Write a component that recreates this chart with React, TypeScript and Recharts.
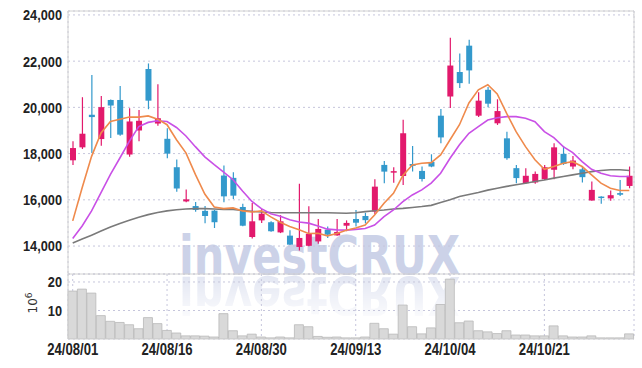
import React from 'react';
import { ComposedChart, Bar, Line, XAxis, YAxis, CartesianGrid, ReferenceLine } from 'recharts';

const dates = [
  '24/08/01', '24/08/02', '24/08/05', '24/08/06', '24/08/07', '24/08/08', '24/08/09', '24/08/12', '24/08/13', '24/08/14',
  '24/08/16', '24/08/19', '24/08/20', '24/08/21', '24/08/22', '24/08/23', '24/08/26', '24/08/27', '24/08/28', '24/08/29',
  '24/08/30', '24/09/02', '24/09/03', '24/09/04', '24/09/05', '24/09/06', '24/09/09', '24/09/10', '24/09/11', '24/09/12',
  '24/09/13', '24/09/19', '24/09/20', '24/09/23', '24/09/24', '24/09/25', '24/09/26', '24/09/27', '24/09/30', '24/10/02',
  '24/10/04', '24/10/07', '24/10/08', '24/10/10', '24/10/11', '24/10/14', '24/10/15', '24/10/16', '24/10/17', '24/10/18',
  '24/10/21', '24/10/22', '24/10/23', '24/10/24', '24/10/25', '24/10/28', '24/10/29', '24/10/30', '24/10/31', '24/11/01',
];

const openPrices = [
  17710, 18270, 19680, 18630, 20320, 20320, 17960, 19000, 21660, 19300,
  18640, 17410, 15930, 15730, 15520, 15530, 17050, 16950, 15690, 14390,
  15110, 15030, 14590, 14450, 13960, 14010, 14200, 14710, 14460, 14880,
  15170, 15300, 15490, 17510, 17180, 17030, 17550, 17250, 17640, 19640,
  20470, 21530, 22670, 19640, 20760, 19310, 18660, 17370, 16720, 16750,
  16890, 17300, 17990, 17440, 17320, 15970, 16140, 16060, 16290, 16600,
];
const highPrices = [
  18530, 20440, 21400, 20490, 20340, 20930, 19960, 19890, 21900, 21000,
  19100, 17740, 16450, 15910, 15730, 15560, 17480, 17190, 15830, 15860,
  15600, 15070, 15340, 14680, 16690, 15720, 15170, 14850, 15170, 15110,
  15560, 15440, 16890, 17680, 17410, 19460, 18330, 17440, 17970, 19930,
  23010, 22330, 22930, 20650, 20880, 20350, 18940, 17510, 17370, 17220,
  17510, 18450, 18330, 17900, 17440, 16790, 16150, 16400, 16860, 17440,
];
const lowPrices = [
  17510, 18200, 18030, 18340, 18670, 18770, 17860, 18530, 19920, 19200,
  17800, 16350, 15900, 15480, 14990, 14780, 15890, 16040, 14860, 14330,
  15000, 14620, 14560, 14040, 13810, 13990, 14100, 14350, 14450, 14640,
  14840, 14980, 15390, 16720, 16740, 16640, 17220, 16790, 17410, 18450,
  19970, 20840, 21020, 19580, 20010, 19240, 17730, 16720, 16690, 16690,
  16860, 16890, 17510, 17320, 16750, 15960, 15830, 15960, 16170, 16500,
];
const closePrices = [
  18240, 18860, 19580, 20010, 20080, 18820, 19390, 19420, 20290, 19530,
  18000, 16490, 16020, 15560, 15300, 15030, 16150, 16180, 14880, 15070,
  15400, 14640, 15070, 14060, 14350, 14530, 14740, 14490, 14610, 15000,
  15010, 15120, 16570, 17220, 17240, 18880, 17470, 16900, 17440, 18700,
  21810, 21050, 21600, 20290, 20160, 19840, 17800, 16940, 17040, 17120,
  17410, 18270, 17550, 17700, 16980, 16430, 16100, 16200, 16220, 17040,
];

// moving averages as drawn (orange, purple, grey)
const maShort = [
  15090, 16520, 17880, 18890, 19390, 19490, 19580, 19580, 19630, 19490,
  19250, 18600, 18030, 17100, 16250, 15690, 15620, 15650, 15520, 15470,
  15520, 15260, 15030, 14850, 14700, 14540, 14550, 14440, 14540, 14680,
  14780, 14910, 15340, 15850, 16280, 17050, 17510, 17580, 17610, 17940,
  18600, 19250, 20190, 20760, 20980, 20580, 19740, 18950, 18300, 17730,
  17320, 17440, 17580, 17650, 17440, 17080, 16720, 16500, 16400, 16400,
];
const maMid = [
  14330, 14870, 15520, 16310, 17100, 17810, 18530, 19170, 19350, 19420,
  19390, 19130, 18760, 18300, 17860, 17520, 17200, 16870, 16380, 15930,
  15620, 15400, 15290, 15140, 15040, 14990, 14870, 14730, 14700, 14690,
  14720, 14760, 14910, 15270, 15560, 15920, 16210, 16430, 16720, 17150,
  17800, 18380, 18880, 19170, 19450, 19550, 19600, 19600, 19530, 19380,
  18950, 18690, 18300, 18040, 17650, 17320, 17150, 17040, 17010, 17010,
];
const maLong = [
  14130, 14300, 14470, 14650, 14820, 14980, 15120, 15250, 15360, 15450,
  15520, 15570, 15600, 15620, 15620, 15600, 15580, 15580, 15540, 15500,
  15470, 15450, 15440, 15440, 15440, 15440, 15440, 15440, 15430, 15420,
  15440, 15490, 15530, 15560, 15600, 15630, 15670, 15710, 15760, 15880,
  16000, 16140, 16230, 16320, 16420, 16500, 16580, 16650, 16720, 16790,
  16860, 16940, 17010, 17080, 17150, 17220, 17270, 17300, 17300, 17270,
];

// volume in millions of shares
const volumes = [
  16.8, 17.5, 16.1, 8.2, 6.2, 5.8, 5.0, 3.6, 7.5, 5.4,
  3.0, 2.1, 1.1, 1.1, 1.0, 0.7, 8.9, 2.9, 1.1, 1.7,
  0.7, 0.4, 0.7, 0.4, 5.0, 4.3, 0.9, 0.6, 0.7, 0.4,
  0.4, 0.7, 5.5, 3.6, 1.7, 11.9, 4.3, 1.8, 3.9, 12.1,
  21.0, 5.7, 6.3, 2.9, 2.5, 1.9, 2.9, 1.4, 1.4, 1.1,
  1.1, 4.6, 1.1, 0.7, 0.7, 1.1, 0.4, 0.4, 0.4, 1.8,
];

const dateTicks = ['24/08/01', '24/08/16', '24/08/30', '24/09/13', '24/10/04', '24/10/21'];
const priceTicks = [14000, 16000, 18000, 20000, 22000, 24000];
const volumeTicks = [10, 20];

const UP = '#e2196c';
const DOWN = '#3399cc';
const GRID = '#c6c6dc';
const AXIS = '#d2d2d2';
const FONT = "'Liberation Sans', Arial, sans-serif";
const PRICE_MIN = 12790;
const PRICE_MAX = 24170;
const VOL_MAX = 22.8;

const rows = dates.map((date, i) => ({
  date,
  open: openPrices[i],
  high: highPrices[i],
  low: lowPrices[i],
  close: closePrices[i],
  range: [lowPrices[i], highPrices[i]],
  maShort: maShort[i],
  maMid: maMid[i],
  maLong: maLong[i],
  vol: volumes[i],
}));

function Candle(props: any) {
  const { x, y, width, height, payload } = props;
  if (x == null || !payload) return null;
  const top = Math.min(y, y + height);
  const h = Math.abs(height);
  const k = h / (payload.high - payload.low || 1);
  const yOpen = top + (payload.high - payload.open) * k;
  const yClose = top + (payload.high - payload.close) * k;
  const color = payload.close >= payload.open ? UP : DOWN;
  const cx = x + width / 2;
  return (
    <g>
      <line x1={cx} x2={cx} y1={top} y2={top + h} stroke={color} strokeWidth={1.2} />
      <rect x={x} y={Math.min(yOpen, yClose)} width={width} height={Math.max(Math.abs(yClose - yOpen), 1.5)} fill={color} />
    </g>
  );
}

// condensed tick text: squeeze horizontally around the anchor point
function NarrowTick(props: any) {
  const { x, y, payload, textAnchor, fontSize, squeeze, dy, format } = props;
  const label = format ? format(payload.value) : payload.value;
  return (
    <g transform={`translate(${x} ${y}) scale(${squeeze} 1)`}>
      <text x={0} y={0} dy={dy} textAnchor={textAnchor} fontFamily={FONT} fontWeight={700} fontSize={fontSize} fill="#222">
        {label}
      </text>
    </g>
  );
}

const fmtPrice = (v: number) => v.toLocaleString('en-US');

function Watermark() {
  return (
    <svg width={642} height={368} style={{ position: 'absolute', left: 0, top: 0 }}>
      <defs>
        <linearGradient id="fade" x1="0" y1="0" x2="0" y2="1">
          <stop offset="0%" stopColor="#fff" stopOpacity={0.55} />
          <stop offset="100%" stopColor="#fff" stopOpacity={0.1} />
        </linearGradient>
        <mask id="reflMask" maskUnits="userSpaceOnUse" x="0" y="276" width="642" height="40">
          <rect x="0" y="276" width="642" height="40" fill="url(#fade)" />
        </mask>
      </defs>
      <text x={179} y={274} textLength={281} lengthAdjust="spacingAndGlyphs"
        fontFamily="'DejaVu Sans', sans-serif" fontWeight={700} fontSize={53} fill="#ccd2e8">
        investCRUX
      </text>
      <g mask="url(#reflMask)">
        <g transform="translate(0 551) scale(1 -1)">
          <text x={179} y={274} textLength={281} lengthAdjust="spacingAndGlyphs"
            fontFamily="'DejaVu Sans', sans-serif" fontWeight={700} fontSize={53} fill="#ccd2e8">
            investCRUX
          </text>
        </g>
      </g>
    </svg>
  );
}

export default function App() {
  return (
    <div style={{ position: 'absolute', left: 0, top: 0, width: 642, height: 368, background: '#fff', overflow: 'hidden' }}>
      <Watermark />
      <div style={{ position: 'absolute', left: 0, top: 0 }}>
        <ComposedChart width={642} height={280} data={rows} margin={{ top: 11, right: 8, bottom: 6, left: 0 }}>
          <CartesianGrid stroke={GRID} strokeDasharray="2 3" />
          <XAxis dataKey="date" ticks={dateTicks} interval={0} height={0} tick={false} tickLine={false} axisLine={false} />
          <YAxis
            domain={[PRICE_MIN, PRICE_MAX]}
            allowDataOverflow
            ticks={priceTicks}
            width={68}
            tickSize={4}
            tickMargin={2}
            tickLine={false}
            axisLine={{ stroke: AXIS }}
            tick={<NarrowTick fontSize={15} squeeze={0.85} dy="0.36em" format={fmtPrice} />}
          />
          <ReferenceLine y={PRICE_MAX} stroke={AXIS} />
          <ReferenceLine x={dates[dates.length - 1]} position="end" stroke={AXIS} />
          <Line dataKey="maLong" type="linear" stroke="#7a7a7a" strokeWidth={1.6} dot={false} isAnimationActive={false} />
          <Line dataKey="maMid" type="linear" stroke="#c950e6" strokeWidth={1.6} dot={false} isAnimationActive={false} />
          <Line dataKey="maShort" type="linear" stroke="#ef8a4c" strokeWidth={1.6} dot={false} isAnimationActive={false} />
          <Bar dataKey="range" barSize={6} shape={<Candle />} isAnimationActive={false} />
        </ComposedChart>
      </div>
      <div style={{ position: 'absolute', left: 0, top: 264 }}>
        <ComposedChart width={642} height={104} data={rows} margin={{ top: 10, right: 8, bottom: 0, left: 0 }} barCategoryGap={0}>
          <CartesianGrid stroke={GRID} strokeDasharray="2 3" />
          <XAxis
            dataKey="date"
            ticks={dateTicks}
            interval={0}
            height={29}
            tickSize={0}
            tickMargin={4}
            tickLine={false}
            axisLine={{ stroke: AXIS }}
            tick={<NarrowTick fontSize={16} squeeze={0.82} dy="0.74em" />}
          />
          <YAxis
            domain={[0, VOL_MAX]}
            allowDataOverflow
            ticks={volumeTicks}
            width={68}
            tickSize={4}
            tickMargin={2}
            tickLine={false}
            axisLine={{ stroke: AXIS }}
            tick={<NarrowTick fontSize={15} squeeze={0.85} dy="0.36em" />}
          />
          <ReferenceLine y={VOL_MAX} stroke={AXIS} />
          <Bar dataKey="vol" fill="#d9d9d9" stroke="#b9b9b9" strokeWidth={0.8} isAnimationActive={false} />
        </ComposedChart>
      </div>
      <svg width={642} height={368} style={{ position: 'absolute', left: 0, top: 0, pointerEvents: 'none' }}>
        <text transform="translate(37 303) rotate(-90)" textAnchor="middle" fontFamily="'DejaVu Sans', sans-serif" fontSize={12} fill="#333">
          10<tspan dy={-5} fontSize={9}>6</tspan>
        </text>
      </svg>
    </div>
  );
}
